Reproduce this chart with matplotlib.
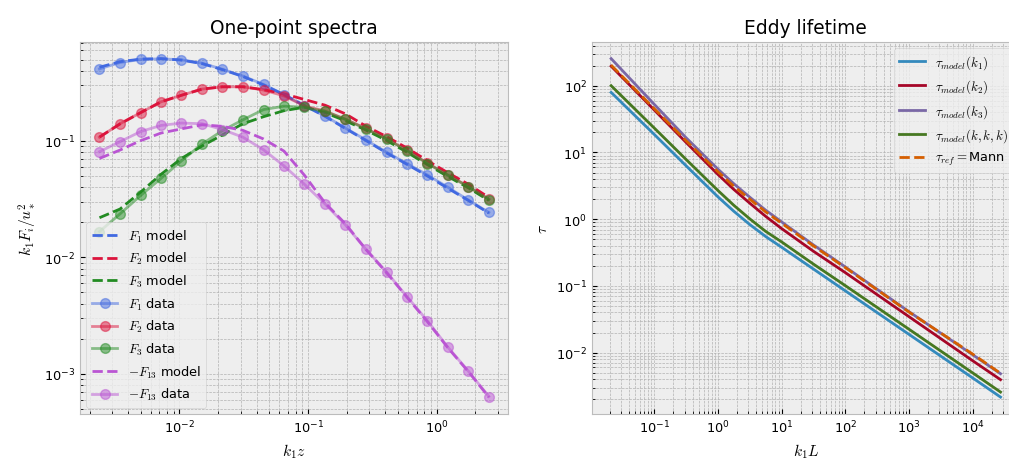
import numpy as np
import matplotlib
matplotlib.use('Agg')
from matplotlib import pyplot as plt

# one-point spectra, values
k1z = [0.00239, 0.00345, 0.00499, 0.0072, 0.01038, 0.0150, 0.0216, 0.0312, 0.0451, 0.0651,
       0.0939, 0.1355, 0.1955, 0.282, 0.408, 0.588, 0.849, 1.225, 1.77, 2.55]

F1_data = [0.416, 0.472, 0.502, 0.508, 0.498, 0.466, 0.413, 0.361, 0.306, 0.25,
           0.2, 0.164, 0.129, 0.102, 0.080, 0.064, 0.051, 0.040, 0.031, 0.0243]
F2_data = [0.1077, 0.1406, 0.175, 0.217, 0.247, 0.279, 0.292, 0.292, 0.274, 0.244,
           0.2, 0.181, 0.154, 0.128, 0.105, 0.083, 0.0645, 0.051, 0.0406, 0.0316]
F3_data = [0.01665, 0.0236, 0.034, 0.0477, 0.0675, 0.0942, 0.1227, 0.152, 0.186, 0.199,
           0.195, 0.1795, 0.153, 0.127, 0.104, 0.0824, 0.064, 0.0507, 0.0404, 0.0314]
F13_data = [0.0808, 0.0986, 0.1204, 0.136, 0.1425, 0.1406, 0.1254, 0.1077, 0.084, 0.061,
            0.0424, 0.0288, 0.019, 0.01172, 0.00749, 0.0046, 0.00285, 0.00169, 0.00105, 0.000637]

F1_model = [0.43, 0.48, 0.505, 0.51, 0.495, 0.462, 0.41, 0.358, 0.303, 0.25,
            0.202, 0.163, 0.128, 0.101, 0.079, 0.063, 0.050, 0.0392, 0.0308, 0.024]
F2_model = [0.108, 0.14, 0.175, 0.217, 0.247, 0.279, 0.292, 0.292, 0.276, 0.254,
            0.227, 0.203, 0.171, 0.134, 0.109, 0.087, 0.0677, 0.0533, 0.0424, 0.0327]
F3_model = [0.0219, 0.026, 0.0363, 0.0517, 0.0708, 0.0905, 0.1128, 0.1406, 0.1616, 0.182,
            0.195, 0.175, 0.149, 0.124, 0.101, 0.080, 0.0625, 0.0495, 0.0395, 0.0308]
F13_model = [0.0708, 0.0835, 0.1006, 0.117, 0.127, 0.1377, 0.1336, 0.1233, 0.104, 0.0818,
             0.0507, 0.0294, 0.0194, 0.0117, 0.0074, 0.00455, 0.0028, 0.00167, 0.00104, 0.00063]

# eddy lifetime
k1L = [0.021, 0.1, 0.316, 1.0, 1.78, 3.16, 5.62, 10, 31.6, 100, 1000, 10000, 27500]
tau_k1 = [79.4, 18.6, 6.31, 2.16, 1.312, 0.832, 0.550, 0.380, 0.1792, 0.0845,
          0.01884, 0.00419, 0.00216]
tau_k2 = [196.3, 43.2, 14.13, 4.68, 2.786, 1.738, 1.103, 0.724, 0.331, 0.1585,
          0.0347, 0.00759, 0.00394]
tau_k3 = [254.7, 52.5, 16.6, 5.62, 3.39, 2.138, 1.365, 0.912, 0.412, 0.1928,
          0.0412, 0.00933, 0.00484]
tau_kkk = [100, 23.2, 7.85, 2.69, 1.612, 1.012, 0.657, 0.457, 0.2126, 0.1012,
           0.02249, 0.00499, 0.00257]
tau_mann = [203.2, 45.2, 14.96, 5.13, 3.108, 1.995, 1.288, 0.871, 0.398, 0.1884,
            0.0407, 0.00955, 0.0049]


if __name__ == '__main__':
    plt.style.use('bmh')
    plt.rcParams['font.size'] = 9.3

    fig = plt.figure(figsize=(10.09, 4.6), dpi=100)
    ax1 = fig.add_axes([0.0793, 0.0978, 0.4245, 0.8094])
    ax2 = fig.add_axes([0.5864, 0.0978, 0.4245, 0.8094])

    cols = ['royalblue', 'crimson', 'forestgreen']
    models = [F1_model, F2_model, F3_model]
    datas = [F1_data, F2_data, F3_data]
    for i in range(3):
        ax1.plot(k1z, models[i], '--', color=cols[i], label='$F_{0:d}$ model'.format(i + 1))
    for i in range(3):
        ax1.plot(k1z, datas[i], 'o-', color=cols[i], alpha=0.5, ms=7,
                 label='$F_{0:d}$ data'.format(i + 1))
    ax1.plot(k1z, F13_model, '--', color='mediumorchid', label='$-F_{13}$ model')
    ax1.plot(k1z, F13_data, 'o-', color='mediumorchid', alpha=0.5, ms=7, label='$-F_{13}$ data')
    ax1.set_xscale('log')
    ax1.set_yscale('log')
    ax1.grid(True, which='both')
    ax1.set_xlabel('$k_1 z$')
    ax1.set_ylabel('$k_1 F_i /u_*^2$')
    ax1.set_title('One-point spectra')
    ax1.legend(loc='lower left')

    ax2.plot(k1L, tau_k1, label=r'$\tau_{model}(k_1)$')
    ax2.plot(k1L, tau_k2, label=r'$\tau_{model}(k_2)$')
    ax2.plot(k1L, tau_k3, label=r'$\tau_{model}(k_3)$')
    ax2.plot(k1L, tau_kkk, label=r'$\tau_{model}(k,k,k)$')
    ax2.plot(k1L, tau_mann, '--', label=r'$\tau_{ref}=$Mann')
    ax2.set_xscale('log')
    ax2.set_yscale('log')
    ax2.grid(True, which='both')
    ax2.set_xlabel('$k_1 L$')
    ax2.set_ylabel(r'$\tau$')
    ax2.set_title('Eddy lifetime')
    ax2.legend(loc='upper right')

    plt.savefig('out.png', dpi=100)
